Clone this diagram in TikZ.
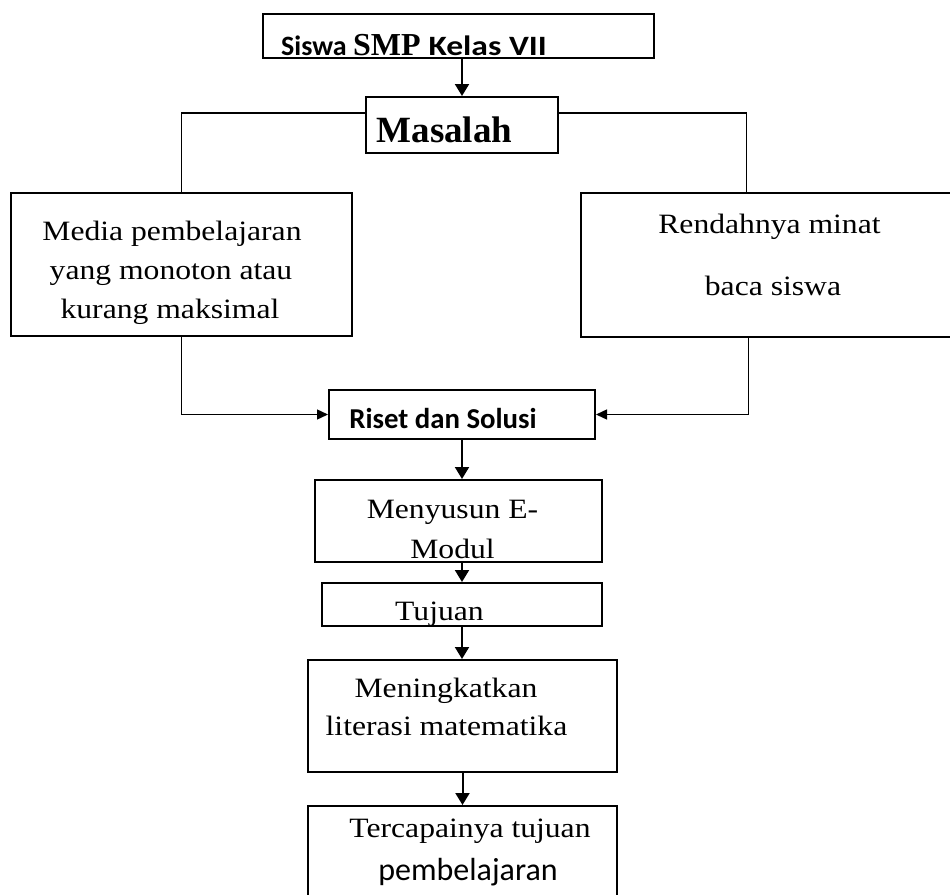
\documentclass[tikz,border=0pt]{standalone}
\usepackage{fontspec}
\setmainfont{Liberation Serif}
\newfontfamily\wordserif[FakeStretch = 1.13]{Liberation Serif}
\newfontfamily\wordsans{Carlito}
\newfontfamily\wordsanswide[FakeStretch = 1.2]{Carlito}
\usetikzlibrary{arrows.meta}
\tikzset {
    box/.style = {draw, line width = 1pt, inner sep = 0pt},
    boxsize/.style 2 args = {minimum width = #1*0.5pt, minimum height = #2*0.5pt},
    txt/.style = {anchor = base, inner sep = 0pt,
        font = \wordserif\fontsize{14}{16}\selectfont},
    txtsans/.style = {anchor = base, inner sep = 0pt,
        font = \wordsans\fontsize{16}{18}\selectfont},
    txtbold/.style = {anchor = base, inner sep = 0pt,
        font = \wordsans\bfseries\fontsize{14.4}{16}\selectfont},
    link/.style = {line width = 0.7pt},
    flow/.style = {line width = 1pt, -{Triangle[length = 6pt, width = 7pt]}},
    flowthin/.style = {line width = 0.7pt, -{Triangle[length = 5.5pt, width = 5pt]}}
}

\begin{document}
\begin{tikzpicture}[x = 0.5pt, y = -0.5pt]
    \useasboundingbox (0, 0) rectangle (950, 895);
    % boxes
    \node (siswa) [box, boxsize = {391}{44}] at (458.5, 36) {};
    \node (masalah) [box, boxsize = {192}{56}] at (462, 125) {};
    \node (media) [box, boxsize = {341}{143}] at (181.5, 264.5) {};
    \node (rendah) [box, boxsize = {379}{144}] at (770.5, 265) {};
    \node (riset) [box, boxsize = {266}{49}] at (462, 414.5) {};
    \node (emodul) [box, boxsize = {287}{82}] at (458.5, 521) {};
    \node (tujuan) [box, boxsize = {280}{43}] at (462, 604.5) {};
    \node (literasi) [box, boxsize = {309}{112}] at (462.5, 716) {};
    \node (capai) [box, boxsize = {309}{99}] at (462.5, 855.5) {};
    % texts
    \node (siswaT) [anchor = base, inner sep = 0pt] at (414, 55)
        {\wordsans\bfseries\fontsize{14}{16}\selectfont Siswa
         \fontsize{16}{18}\rmfamily\bfseries SMP
         \wordsanswide\bfseries\fontsize{14}{16}\selectfont Kelas VII};
    \node (masalahT) [anchor = base, inner sep = 0pt,
        font = \bfseries\fontsize{18.5}{20}\selectfont] at (444.5, 142) {Masalah};
    \node (mediaA) [txt] at (172, 240) {Media pembelajaran};
    \node (mediaB) [txt] at (171, 279) {yang monoton atau};
    \node (mediaC) [txt] at (170, 318) {kurang maksimal};
    \node (rendahA) [txt] at (769.5, 233) {Rendahnya minat};
    \node (rendahB) [txt] at (773, 295) {baca siswa};
    \node (risetT) [txtbold] at (443, 428) {Riset dan Solusi};
    \node (emodulA) [txt] at (452.5, 518) {Menyusun E-};
    \node (emodulB) [txt] at (452.5, 558) {Modul};
    \node (tujuanT) [txt] at (439.5, 620) {Tujuan};
    \node (literasiA) [txt] at (446, 697) {Meningkatkan};
    \node (literasiB) [txt] at (446.5, 735) {literasi matematika};
    \node (capaiA) [txt] at (470, 837) {Tercapainya tujuan};
    \node (capaiB) [txtsans] at (468, 880) {pembelajaran};
    % connectors
    \draw [flow] (masalah.north |- siswa.south) -- (masalah.north);
    \draw [link] ([yshift = 6pt] masalah.west) -| (media.north);
    \draw [link] ([yshift = 6pt] masalah.east) -| ([xshift = -12pt] rendah.north);
    \draw [flowthin] (media.south) |- (riset.west);
    \draw [flowthin] ([xshift = -11pt] rendah.south) |- (riset.east);
    \draw [flow] (riset.south) -- (riset.south |- emodul.north);
    \draw [flow] (tujuan.north |- emodul.south) -- (tujuan.north);
    \draw [flow] (tujuan.south) -- (tujuan.south |- literasi.north);
    \draw [flow] (literasi.south) -- (literasi.south |- capai.north);
\end{tikzpicture}
\end{document}
